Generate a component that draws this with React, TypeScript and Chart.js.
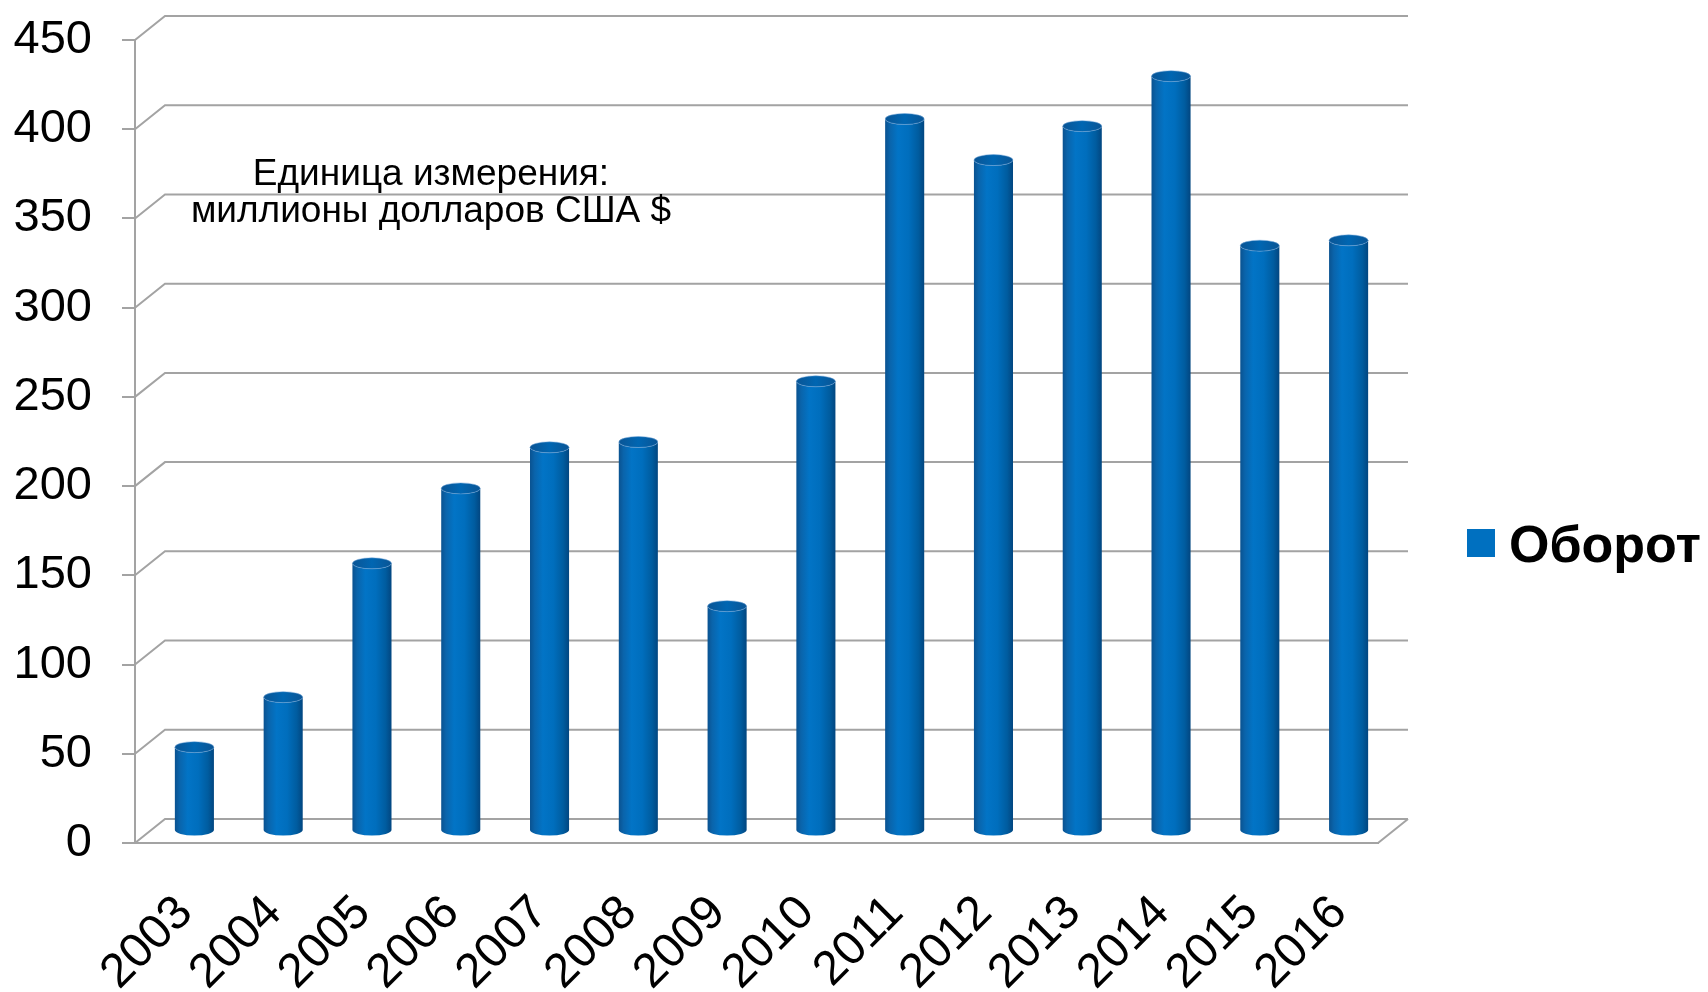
import React, { useEffect, useRef } from "react";
import { Chart, registerables } from "chart.js";

Chart.register(...registerables);

const years: string[] = ["2003", "2004", "2005", "2006", "2007", "2008", "2009", "2010", "2011", "2012", "2013", "2014", "2015", "2016"];
const turnover: number[] = [47, 75, 150, 192, 215, 218, 126, 252, 399, 376, 395, 423, 328, 331];
const seriesName = "Оборот";
const noteLines: string[] = ["Единица измерения:", "миллионы долларов США $"];
const yMin = 0;
const yMax = 450;
const yStep = 50;

const FONT = "'Liberation Sans', Arial, sans-serif";
const GRID = "#a3a3a3";
const DX = 30; // depth offset (back wall)
const DY = -24;

const depthPlugin = {
  id: "depth3d",
  beforeDatasetsDraw(chart: any) {
    const { ctx, chartArea, scales } = chart;
    const y = scales.y;
    ctx.save();
    ctx.strokeStyle = GRID;
    ctx.lineWidth = 2;
    for (let v = yMin; v <= yMax; v += yStep) {
      const py = y.getPixelForValue(v);
      ctx.beginPath();
      ctx.moveTo(chartArea.left, py);
      ctx.lineTo(chartArea.left + DX, py + DY);
      ctx.lineTo(chartArea.right + DX, py + DY);
      ctx.stroke();
    }
    // right edge of floor
    ctx.beginPath();
    ctx.moveTo(chartArea.right, chartArea.bottom);
    ctx.lineTo(chartArea.right + DX, chartArea.bottom + DY);
    ctx.stroke();
    ctx.restore();
  },
  afterDatasetsDraw(chart: any) {
    const { ctx } = chart;
    const meta = chart.getDatasetMeta(0);
    const ox = DX / 2;
    const oy = DY / 2;
    ctx.save();
    meta.data.forEach((el: any) => {
      const cx = el.x + ox;
      const rx = el.width / 2;
      const ry = 5.5;
      const top = el.y + oy;
      const base = el.base + oy;
      const l = cx - rx;
      const r = cx + rx;
      const g = ctx.createLinearGradient(l, 0, r, 0);
      g.addColorStop(0, "#0a5290");
      g.addColorStop(0.12, "#0a64ab");
      g.addColorStop(0.33, "#0274c6");
      g.addColorStop(0.6, "#006ebd");
      g.addColorStop(0.85, "#005c9f");
      g.addColorStop(1, "#024680");
      ctx.beginPath();
      ctx.moveTo(l, top);
      ctx.lineTo(l, base);
      ctx.ellipse(cx, base, rx, ry, 0, Math.PI, 0, true);
      ctx.lineTo(r, top);
      ctx.ellipse(cx, top, rx, ry, 0, 0, Math.PI, false);
      ctx.closePath();
      ctx.fillStyle = g;
      ctx.fill();
      // top cap
      ctx.beginPath();
      ctx.ellipse(cx, top, rx, ry, 0, 0, Math.PI * 2);
      const tg = ctx.createLinearGradient(l, 0, r, 0);
      tg.addColorStop(0, "#0a5595");
      tg.addColorStop(0.5, "#0066b2");
      tg.addColorStop(1, "#0a5595");
      ctx.fillStyle = tg;
      ctx.fill();
      ctx.lineWidth = 1;
      ctx.strokeStyle = "rgba(120,170,220,0.5)";
      ctx.stroke();
    });
    ctx.restore();
  },
  afterDraw(chart: any) {
    const { ctx } = chart;
    ctx.save();
    // note
    ctx.fillStyle = "#000";
    ctx.font = `37px ${FONT}`;
    ctx.textAlign = "center";
    ctx.textBaseline = "alphabetic";
    ctx.fillText(noteLines[0], 431, 185);
    ctx.fillText(noteLines[1], 431, 222);
    // legend
    ctx.fillStyle = "#0070c0";
    ctx.fillRect(1467, 529, 28, 28);
    ctx.fillStyle = "#000";
    ctx.font = `bold 52px ${FONT}`;
    ctx.textAlign = "left";
    ctx.fillText(seriesName, 1509, 562);
    ctx.restore();
  },
};

export default function App() {
  const ref = useRef<HTMLCanvasElement | null>(null);
  useEffect(() => {
    if (!ref.current) return;
    const chart = new Chart(ref.current, {
      type: "bar",
      data: {
        labels: years,
        datasets: [
          {
            label: seriesName,
            data: turnover,
            backgroundColor: "rgba(0,0,0,0)",
            borderWidth: 0,
            categoryPercentage: 1,
            barPercentage: 0.44,
          },
        ],
      },
      options: {
        responsive: false,
        animation: false,
        events: [],
        layout: { padding: { top: 40, right: 330, left: 0, bottom: 0 } },
        plugins: { legend: { display: false }, tooltip: { enabled: false } },
        scales: {
          x: {
            offset: true,
            grid: { display: false },
            border: { display: true, color: GRID, width: 2 },
            ticks: {
              maxRotation: 45,
              minRotation: 45,
              padding: 34,
              labelOffset: 6,
              color: "#000",
              font: { family: FONT, size: 48 },
            },
            afterFit: (s: any) => {
              s.height = 149;
              s.paddingLeft = 0;
              s.paddingRight = 0;
            },
          },
          y: {
            min: yMin,
            max: yMax,
            ticks: {
              stepSize: yStep,
              padding: 30,
              color: "#000",
              font: { family: FONT, size: 47 },
            },
            grid: { drawOnChartArea: false, drawTicks: true, tickLength: 13, color: GRID, lineWidth: 2 },
            border: { display: true, color: GRID, width: 2 },
            afterFit: (s: any) => {
              s.width = 135;
              s.paddingTop = 0;
              s.paddingBottom = 0;
            },
          },
        },
      },
      plugins: [depthPlugin],
    });
    return () => chart.destroy();
  }, []);
  return (
    <div style={{ position: "absolute", left: 0, top: 0, width: 1708, height: 992, background: "#fff" }}>
      <canvas ref={ref} width={1708} height={992} style={{ display: "block" }} />
    </div>
  );
}
